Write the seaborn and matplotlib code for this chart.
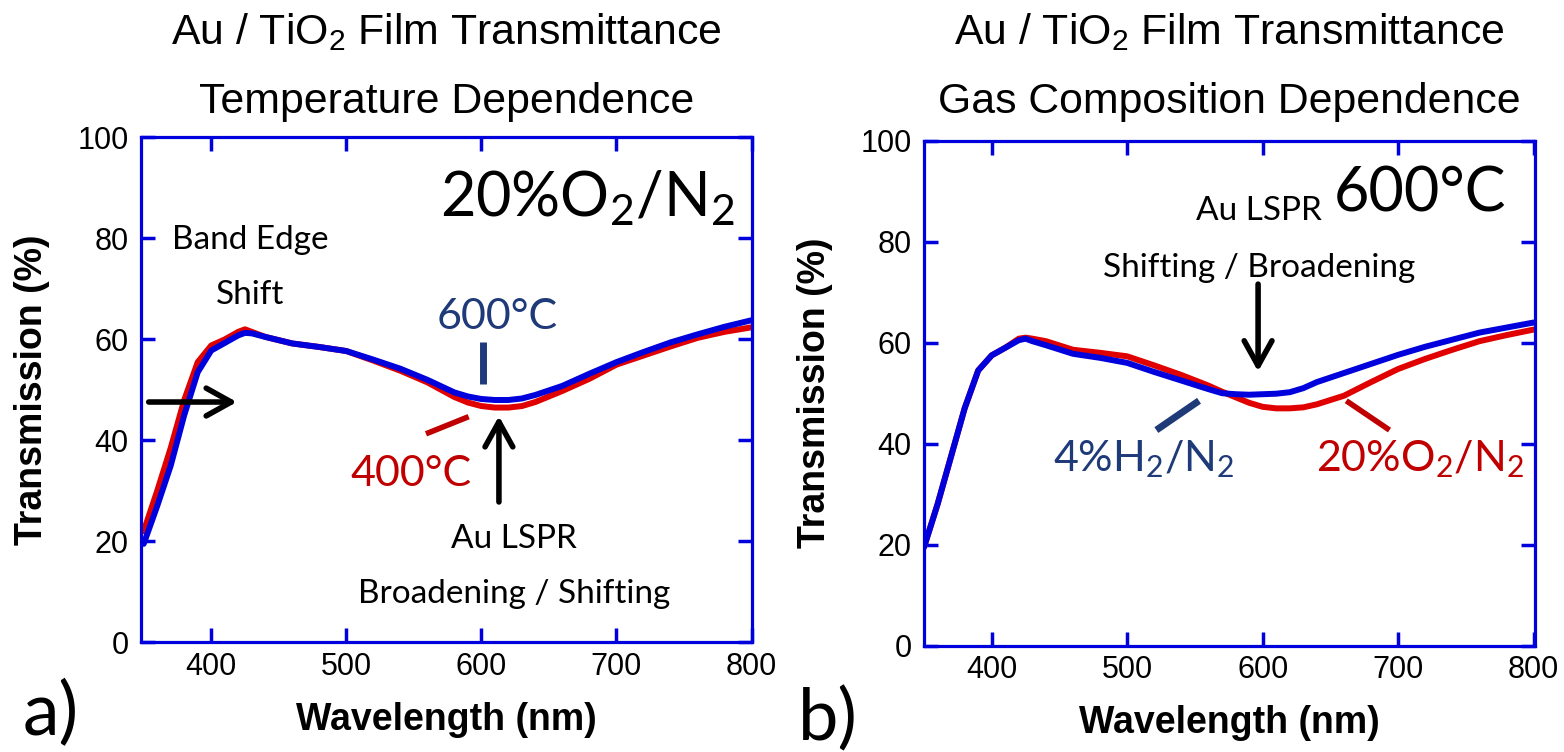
import numpy as np
import pandas as pd
import matplotlib
matplotlib.use("Agg")
import matplotlib.pyplot as plt
import seaborn as sns
from matplotlib import font_manager
from matplotlib.font_manager import FontProperties

# ---- spectra: wavelength (nm) and transmission (%) ----
wl_temp = [350, 360, 370, 380, 390, 400, 410, 420, 425, 430, 440, 460, 480, 500,
           520, 540, 560, 580, 590, 600, 610, 620, 630, 640, 660, 680, 700, 720,
           740, 760, 780, 800]
t_400c = [22.0, 30.0, 38.5, 48.0, 55.5, 58.8, 60.0, 61.5, 62.0, 61.5, 60.5, 59.2,
          58.5, 57.7, 55.8, 53.8, 51.5, 48.6, 47.5, 46.8, 46.5, 46.5, 46.8, 47.6,
          49.8, 52.2, 55.0, 56.8, 58.6, 60.3, 61.5, 62.4]
t_600c = [19.5, 27.0, 35.0, 45.0, 53.5, 57.8, 59.3, 60.8, 61.3, 61.2, 60.5, 59.2,
          58.5, 57.7, 56.0, 54.2, 52.0, 49.5, 48.7, 48.2, 48.0, 48.0, 48.3, 49.0,
          50.8, 53.2, 55.5, 57.5, 59.4, 61.0, 62.5, 63.8]

wl_gas = [350, 360, 370, 380, 390, 400, 410, 420, 425, 430, 440, 460, 480, 500,
          520, 540, 560, 570, 580, 590, 600, 610, 620, 630, 640, 660, 680, 700,
          720, 740, 760, 780, 800]
t_h2 = [19.5, 28.0, 37.5, 47.0, 54.5, 57.5, 59.0, 60.5, 60.8, 60.3, 59.5, 57.8,
        57.0, 56.0, 54.2, 52.5, 50.8, 50.0, 49.8, 49.7, 49.8, 49.9, 50.2, 51.0,
        52.2, 54.0, 55.8, 57.6, 59.2, 60.6, 62.0, 63.0, 64.0]
t_o2 = [19.5, 28.0, 37.5, 47.0, 54.5, 57.5, 59.0, 60.8, 61.0, 60.8, 60.3, 58.6,
        58.0, 57.3, 55.5, 53.6, 51.5, 50.3, 49.2, 48.1, 47.3, 47.0, 47.0, 47.2,
        47.8, 49.5, 52.2, 54.8, 56.8, 58.6, 60.3, 61.5, 62.6]

x_ticks = [400, 500, 600, 700, 800]
y_ticks = [0, 20, 40, 60, 80, 100]

# ---- colours ----
RED_LINE = "#E00000"
BLUE_LINE = "#0000DD"
FRAME = "#0000DD"
NAVY = "#1F3A78"
RED_TXT = "#C00000"

sns.set_theme(style="white")
plt.rcParams["font.family"] = ["Liberation Sans", "DejaVu Sans"]
plt.rcParams["text.color"] = "black"

installed = {f.name for f in font_manager.fontManager.ttflist}
if "Liberation Sans Narrow" in installed:
    title_fp = FontProperties(family="Liberation Sans Narrow")
else:
    title_fp = FontProperties(family="Liberation Sans")
note_family = next((f for f in ["Lato", "Open Sans", "Noto Sans"] if f in installed),
                   "DejaVu Sans")

fig = plt.figure(figsize=(15.64, 7.52), dpi=100)
ax_a = fig.add_axes([141 / 1564, 109.7 / 752, 610.5 / 1564, 504.8 / 752])
ax_b = fig.add_axes([924 / 1564, 106.3 / 752, 611 / 1564, 505 / 752])

df_a = pd.DataFrame({"wl": wl_temp * 2, "T": t_400c + t_600c,
                     "cond": ["400C"] * len(wl_temp) + ["600C"] * len(wl_temp)})
df_b = pd.DataFrame({"wl": wl_gas * 2, "T": t_o2 + t_h2,
                     "cond": ["O2"] * len(wl_gas) + ["H2"] * len(wl_gas)})

sns.lineplot(data=df_a, x="wl", y="T", hue="cond", palette={"400C": RED_LINE, "600C": BLUE_LINE},
             lw=4.3, ax=ax_a, legend=False, sort=False, estimator=None)
sns.lineplot(data=df_b, x="wl", y="T", hue="cond", palette={"O2": RED_LINE, "H2": BLUE_LINE},
             lw=4.3, ax=ax_b, legend=False, sort=False, estimator=None)

for ax, xlo, xhi in [(ax_a, 348, 800), (ax_b, 350, 801)]:
    ax.set_xlim(xlo, xhi)
    ax.set_ylim(0, 100)
    ax.set_xticks(x_ticks)
    ax.set_yticks(y_ticks)
    for sp in ax.spines.values():
        sp.set_color(FRAME)
        sp.set_linewidth(2.3)
    ax.tick_params(axis="both", which="major", direction="in", length=10, width=2.5,
                   color=FRAME, labelcolor="black", labelsize=22,
                   top=True, right=True, bottom=True, left=True)
    ax.tick_params(axis="x", pad=7)
    ax.tick_params(axis="y", pad=9)
    ax.set_xlabel("Wavelength (nm)", fontsize=27, fontweight="bold", color="black")
    ax.set_ylabel("Transmission (%)", fontsize=27, fontweight="bold", color="black")
    ax.xaxis.set_label_coords(0.5, -0.118)
    ax.yaxis.set_label_coords(-0.178, 0.5)
    ax.yaxis.label.set_verticalalignment("center")
    ax.grid(False)


def note(ax, x, y, s, size, color="black", ha="center"):
    ax.text(x, y, s, fontsize=size, color=color, ha=ha, va="baseline",
            family=note_family)


def arrow(ax, tail, head):
    ax.annotate("", xy=head, xytext=tail,
                arrowprops=dict(arrowstyle="->,head_length=0.9,head_width=0.5",
                                lw=4, color="black", shrinkA=0, shrinkB=0,
                                mutation_scale=20))


sub2 = r"$_\mathregular{2}$"

# panel a annotations
note(ax_a, 788, 84.5, "20%O" + sub2 + "/N" + sub2, 44, ha="right")
note(ax_a, 429, 78, "Band Edge", 24)
note(ax_a, 429, 67, "Shift", 24)
arrow(ax_a, (353.7, 47.6), (419, 47.6))
note(ax_a, 612, 62, "600°C", 31, color=NAVY)
ax_a.plot([601.5, 601.5], [59.4, 51.2], color=NAVY, lw=5, solid_capstyle="butt")
ax_a.plot([559, 590.6], [41.3, 44.7], color=RED_TXT, lw=4, solid_capstyle="butt")
note(ax_a, 548, 31, "400°C", 31, color=RED_TXT)
arrow(ax_a, (613, 27.8), (613, 44.8))
note(ax_a, 624, 18.6, "Au LSPR", 24)
note(ax_a, 624, 7.7, "Broadening / Shifting", 24)

# panel b annotations
note(ax_b, 597, 84.2, "Au LSPR", 24)
note(ax_b, 716, 85.9, "600°C", 44)
note(ax_b, 597.5, 73, "Shifting / Broadening", 24)
arrow(ax_b, (596.6, 71.6), (596.6, 54.3))
ax_b.plot([521.5, 553], [42.7, 48.5], color=NAVY, lw=5, solid_capstyle="butt")
note(ax_b, 512, 34.6, "4%H" + sub2 + "/N" + sub2, 31, color=NAVY)
ax_b.plot([661.7, 693.6], [48.5, 42.7], color=RED_TXT, lw=4, solid_capstyle="butt")
note(ax_b, 716, 34.6, "20%O" + sub2 + "/N" + sub2, 31, color=RED_TXT)

# panel titles
titles = []
for cx, line2 in [((141 + 751.5) / 2, "Temperature Dependence"),
                  ((924 + 1535) / 2, "Gas Composition Dependence")]:
    t1 = fig.text(cx / 1564, 1 - 44 / 752, "Au / TiO" + sub2 + " Film Transmittance",
                  ha="center", va="baseline", fontproperties=title_fp, color="black")
    t2 = fig.text(cx / 1564, 1 - 113 / 752, line2,
                  ha="center", va="baseline", fontproperties=title_fp, color="black")
    titles += [t1, t2]

# size the headings so the first line spans about 550 px
for t in titles:
    t.set_fontsize(30)
fig.canvas.draw()
w = titles[0].get_window_extent().width
size = min(38, 30 * 550 / w)
for t in titles:
    t.set_fontsize(size)

# panel letters
fig.text(23 / 1564, (752 - 735) / 752, "a)", fontsize=53, ha="left", va="baseline",
         family=note_family, color="black")
fig.text(798 / 1564, (752 - 740) / 752, "b)", fontsize=52, ha="left", va="baseline",
         family=note_family, color="black")

fig.savefig("out.png", dpi=100, facecolor="white")
